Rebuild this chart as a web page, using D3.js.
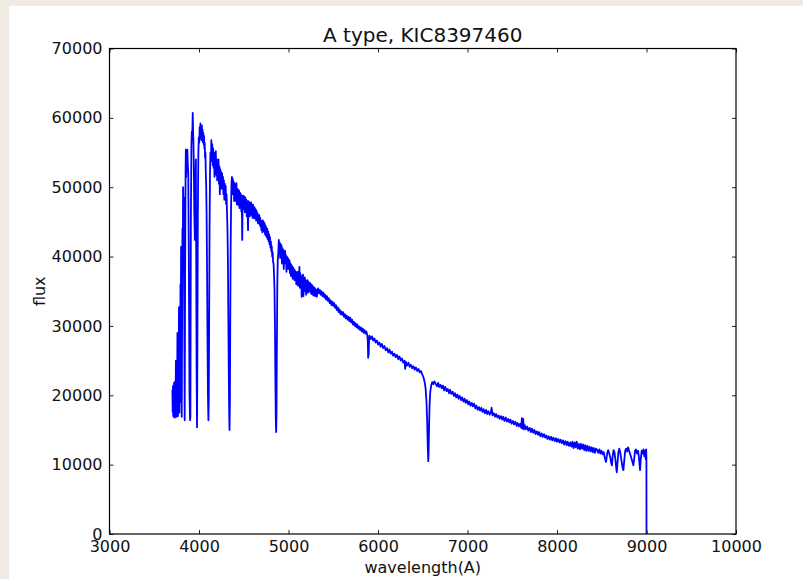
<!DOCTYPE html>
<html>
<head>
<meta charset="utf-8">
<script src="https://cdn.jsdelivr.net/npm/d3@7"></script>
<style>
  body { margin: 0; background: #efebe3; }
  svg { display: block; }
  text { font-family: "DejaVu Sans", sans-serif; fill: #111; }
</style>
</head>
<body>
<div id="chart"></div>
<script>
// Spectrum of an A type star, KIC8397460

var chartTitle = "A type, KIC8397460";
var xLabel = "wavelength(A)";
var yLabel = "flux";
var xTicks = [3000, 4000, 5000, 6000, 7000, 8000, 9000, 10000];
var yTicks = [0, 10000, 20000, 30000, 40000, 50000, 60000, 70000];

// [wavelength (A), flux]
var spectrum = [
  // blue end, higher Balmer lines
  [3703,20800],[3706,17600],[3709,21300],[3712,17000],[3715,19900],[3718,16900],[3721,21800],[3724,17300],
  [3727,19500],[3730,16800],[3733,22000],[3736,17400],[3739,20200],[3742,25000],[3745,17200],[3748,16900],
  [3751,22000],[3755,18000],[3759,29000],[3762,19000],[3765,17000],[3769,24000],[3772,18200],[3776,32700],
  [3779,21000],[3781,17500],[3785,28000],[3789,19000],[3793,36000],[3797,30000],[3800,41400],[3803,33000],
  [3807,16900],[3811,30000],[3815,44000],[3819,39000],[3822,50000],[3826,47000],[3830,48500],[3834,36000],
  [3840,16400],[3845,38000],[3850,52000],[3853,55400],[3857,51500],[3861,54800],[3865,52800],[3870,55400],
  [3874,53500],[3880,52000],[3886,40000],[3894,20000],[3900,16400],[3904,17000],[3909,45000],[3915,56000],
  [3920,58000],[3925,57500],[3930,60700],[3934,58000],[3938,56500],[3943,52000],[3948,46000],[3954,42400],
  [3959,50000],[3965,54000],[3969,40000],[3973,24000],[3978,15400],[3982,26000],[3987,46000],[3993,55000],
  [3998,57200],[4003,56400],[4008,58700],
  // H delta, H gamma
  [4012,57000],[4016,59200],[4020,57400],[4024,58600],[4028,56800],[4032,58900],[4036,57200],[4040,58300],
  [4044,56500],[4048,57800],[4052,56200],[4056,57400],[4060,55600],[4064,56400],[4068,54200],[4072,55000],
  [4076,52000],[4080,50500],[4085,46000],[4090,38000],[4095,28000],[4100,20000],[4105,16400],[4109,19000],
  [4113,30000],[4118,44000],[4123,52000],[4128,55000],[4133,53800],[4138,56800],[4143,54000],[4148,56200],
  [4153,53200],[4158,55600],[4163,52800],[4168,55000],[4173,51500],[4178,54800],[4183,52600],[4188,55200],
  [4193,51800],[4198,54000],[4203,51000],[4208,53800],[4213,51200],[4218,54000],[4223,50500],[4228,53000],
  [4233,49000],[4238,52600],[4243,50800],[4248,52200],[4253,49800],[4258,52000],[4263,50200],[4268,51500],
  [4273,49000],[4278,51000],[4283,48200],[4288,50500],[4293,48800],[4298,50200],[4303,47600],[4308,49000],
  [4313,46500],[4318,44000],[4323,39500],[4328,31000],[4333,23000],[4337,17500],[4341,15000],[4345,19000],
  [4349,30000],[4353,40000],
  // up to H beta
  [4358,47000],[4363,50500],[4368,51500],[4373,49000],[4378,51200],[4383,49200],[4388,50800],[4393,48000],
  [4398,50500],[4403,48500],[4408,50200],[4413,48000],[4418,50600],[4423,47500],[4428,49800],[4433,48200],
  [4438,49600],[4443,47400],[4448,49500],[4453,47000],[4458,49200],[4463,47800],[4468,49000],[4473,46500],
  [4478,48800],[4483,42400],[4488,48500],[4493,46800],[4498,48800],[4503,47200],[4508,48600],[4513,46400],
  [4518,48500],[4523,47000],[4528,48200],[4533,45800],[4538,48000],[4543,46500],[4548,43800],[4553,48000],
  [4558,46200],[4563,47800],[4568,45800],[4573,47600],[4578,46500],[4583,47800],[4588,46000],[4593,47400],
  [4598,45600],[4603,47500],[4608,46200],[4613,47200],[4618,45500],[4623,47000],[4628,45800],[4633,46800],
  [4638,45200],[4643,46600],[4648,45500],[4653,46300],[4658,44800],[4663,46000],[4668,45200],[4673,46000],
  [4678,44600],[4683,45600],[4688,44300],[4693,45200],[4698,43800],[4703,45000],[4708,43500],[4713,45200],
  [4718,44000],[4723,45000],[4728,43600],[4733,44800],[4738,43200],[4743,44500],[4748,43000],[4753,44200],
  [4758,42800],[4763,44000],[4768,42500],[4773,43600],[4778,42200],[4783,43200],[4788,41800],[4793,42800],
  [4798,41300],[4803,42200],[4808,40800],[4813,41500],[4818,40000],[4823,40600],[4828,39200],[4833,39000],
  [4838,37500],[4843,35500],[4848,31000],[4853,23000],[4858,16500],[4862,14700],[4866,17500],[4870,27000],
  [4875,36000],[4880,39500],[4886,40500],
  // after H beta
  [4892,42400],[4897,40800],[4902,42000],[4907,39800],[4912,41800],[4917,40500],[4922,41600],[4927,39000],
  [4932,41200],[4937,40000],[4942,41000],[4947,38200],[4952,40600],[4957,39400],[4962,40800],[4967,39000],
  [4972,40200],[4977,37800],[4982,40000],[4987,38800],[4992,39800],[4997,38200],[5002,39600],[5007,38400],
  [5012,39400],[5017,37600],[5022,39000],[5027,37200],[5032,38800],[5037,37800],[5042,38600],[5047,36800],
  [5052,38400],[5057,37400],[5062,38200],[5067,36600],[5072,38000],[5077,37000],[5082,37800],[5087,36000],
  [5092,37600],[5097,36800],[5102,37800],[5107,35800],[5112,37400],[5117,36200],[5122,38500],[5127,35500],
  [5132,37600],[5137,36000],[5142,37200],[5147,34200],[5152,37000],[5157,35600],[5162,37400],[5167,34300],
  [5172,36800],[5177,35400],[5182,37000],[5187,35000],[5192,36600],[5197,34500],[5202,36200],[5207,35200],
  [5212,36600],[5217,34800],[5222,36400],[5227,35000],[5232,36000],[5237,35200],[5242,36200],[5247,34800],
  [5252,36000],[5257,34600],[5262,35900],[5267,35000],[5272,35700],[5277,34400],[5282,35600],[5287,34800],
  [5292,35500],[5297,34300],[5302,35300],[5307,34600],[5312,35200],[5317,34200],[5322,35000],
  // smooth part, Na D
  [5330,35400],[5340,34700],[5350,35200],[5360,34500],[5370,35000],[5380,34300],[5390,34800],[5400,34100],
  [5410,34500],[5420,33800],[5430,34300],[5440,33600],[5450,34000],[5460,33300],[5470,33700],[5480,33000],
  [5490,33500],[5500,32900],[5510,33300],[5520,32600],[5530,33000],[5540,32300],[5550,32700],[5560,32000],
  [5570,32400],[5580,31700],[5590,32100],[5600,31600],[5610,32000],[5620,31300],[5630,31700],[5640,31100],
  [5650,31500],[5660,30900],[5670,31300],[5680,30700],[5690,31200],[5700,30500],[5710,30900],[5720,30200],
  [5730,30600],[5740,30000],[5750,30400],[5760,29800],[5770,30200],[5780,29600],[5790,29900],[5800,29400],
  [5810,29800],[5820,29200],[5830,29600],[5840,29000],[5850,29400],[5860,28900],[5870,29200],[5880,28700],
  [5886,27800],[5890,25400],[5893,27200],[5896,25800],[5900,27900],
  // up to H alpha
  [5904,28600],[5918,28100],[5932,28500],[5946,27900],[5960,28200],[5974,27600],[5988,27900],[6002,27300],
  [6016,27600],[6030,27000],[6044,27400],[6058,26800],[6072,27100],[6086,26500],[6100,26800],[6114,26200],
  [6128,26600],[6142,26000],[6156,26300],[6170,25700],[6184,26000],[6198,25500],[6212,25800],[6226,25200],
  [6240,25600],[6254,25000],[6268,25300],[6282,24700],[6296,25000],[6304,23800],[6312,24800],[6326,24300],
  [6340,24700],[6354,24100],[6368,24400],[6382,23900],[6396,24200],[6410,23700],[6424,24000],[6438,23500],
  [6452,23800],[6466,23300],[6480,23500],[6494,23000],[6508,22600],[6520,22000],[6532,21000],[6542,19000],
  [6550,16000],[6556,12500],[6562,10500],[6566,12000],[6570,15000],[6576,18500],[6584,20500],[6594,21400],
  [6606,21900],[6618,21600],[6630,22000],[6642,21700],
  // red continuum
  [6660,21300],[6672,21800],[6684,21200],[6700,21500],[6712,21000],[6726,21400],[6740,20700],[6752,21200],
  [6768,20600],[6780,20900],[6794,20300],[6806,20800],[6820,20200],[6834,20500],[6848,19900],[6860,20300],
  [6874,19700],[6888,20100],[6900,19500],[6914,19900],[6928,19300],[6940,19700],[6954,19100],[6968,19500],
  [6980,18900],[6994,19300],[7008,18700],[7020,19100],[7034,18500],[7048,18900],[7060,18400],[7074,18800],
  [7088,18100],[7100,18500],[7114,17900],[7128,18300],[7140,17800],[7154,18200],[7168,17600],[7180,18000],
  [7194,17400],[7208,17900],[7220,17300],[7234,17700],[7248,17200],[7260,17500],[7270,18200],[7280,17100],
  [7294,17400],[7308,16900],[7320,17300],[7334,16800],[7348,17100],[7360,16600],[7374,17000],[7388,16500],
  [7400,16900],[7414,16300],[7428,16800],[7440,16200],[7454,16600],[7468,16100],[7480,16500],[7494,15900],
  [7508,16300],[7520,15800],[7534,16200],[7548,15600],[7560,16000],[7574,15500],[7588,15900],[7600,15300],
  [7608,16700],[7614,15200],[7622,16600],[7630,15100],[7640,15700],[7652,15100],[7666,15500],[7680,14900],
  [7694,15300],[7708,14700],[7720,15200],[7734,14600],[7748,15000],[7760,14400],[7774,14800],[7788,14300],
  [7800,14700],[7814,14100],[7828,14500],[7840,14000],[7854,14400],[7868,13900],[7880,14200],[7894,13700],
  [7908,14100],[7920,13600],[7934,14000],[7948,13500],[7960,13900],[7974,13400],[7988,13800],[8000,13300],
  [8014,13700],[8028,13200],[8040,13600],[8054,13100],[8068,13500],[8080,12900],[8094,13400],[8108,12800],
  [8120,13300],[8134,12700],[8148,13200],[8160,12600],[8172,13300],[8184,12400],[8196,13200],[8208,12500],
  [8220,13300],[8232,12300],[8244,13000],[8256,12200],[8268,13000],[8280,12300],[8292,12900],[8304,12100],
  [8316,12800],[8328,12000],[8340,12700],[8352,12000],[8364,12600],[8376,11900],[8388,12500],[8400,11800],
  [8412,12400],[8424,11700],[8436,12300],
  // Paschen lines and red end
  [8450,12100],[8462,11700],[8474,12200],[8486,11600],[8498,12000],[8510,11500],[8522,11800],[8534,11000],
  [8548,10400],[8560,11600],[8572,12100],[8584,11600],[8596,11000],[8606,10200],[8614,9900],[8622,11200],
  [8632,12100],[8642,11800],[8652,10800],[8662,9500],[8668,8900],[8676,10200],[8686,11800],[8696,12300],
  [8706,11800],[8720,10600],[8732,9600],[8742,9200],[8750,10400],[8762,12000],[8772,12300],[8784,11900],
  [8795,12500],[8806,12000],[8818,11500],[8830,11000],[8842,10400],[8853,9900],[8862,10800],[8872,12000],
  [8882,12200],[8894,11600],[8906,12000],[8916,11000],[8928,9200],[8936,10800],[8946,12000],[8956,11600],
  [8966,12200],[8976,11200],[8986,12000],[8992,10800],[8996,12200],[8999,11000],[9000,0]
];

var svgWidth = 803;
var svgHeight = 579;

var chartMargin = {
  top: 48.5,
  right: 67,
  bottom: 45,
  left: 109.5
};

var width = svgWidth - chartMargin.left - chartMargin.right;
var height = svgHeight - chartMargin.top - chartMargin.bottom;

var svg = d3.select("#chart")
  .append("svg")
  .attr("width", svgWidth)
  .attr("height", svgHeight);

// white page over the paper background
svg.append("rect")
  .attr("x", 9)
  .attr("y", 6)
  .attr("width", svgWidth - 9)
  .attr("height", svgHeight - 6)
  .attr("fill", "#ffffff");

var chartGroup = svg.append("g")
  .attr("transform", `translate(${chartMargin.left}, ${chartMargin.top})`);

var xScale = d3.scaleLinear().domain([3000, 10000]).range([0, width]);
var yScale = d3.scaleLinear().domain([0, 70000]).range([height, 0]);

// spectrum line
var line = d3.line()
  .x(d => xScale(d[0]))
  .y(d => yScale(d[1]));

chartGroup.append("path")
  .datum(spectrum)
  .attr("d", line)
  .attr("fill", "none")
  .attr("stroke", "#0000ff")
  .attr("stroke-width", 1.8)
  .attr("stroke-linejoin", "round");

// axes, ticks pointing in
function styleAxis(g) {
  g.select(".domain").remove();
  g.selectAll(".tick line").attr("stroke", "#222").attr("stroke-width", 1);
  g.selectAll(".tick text").attr("font-size", "16px").attr("fill", "#111")
    .style("font-family", "DejaVu Sans, sans-serif");
}

chartGroup.append("g")
  .attr("transform", `translate(0, ${height})`)
  .call(d3.axisBottom(xScale).tickValues(xTicks).tickFormat(d3.format("d"))
    .tickSizeInner(-4).tickSizeOuter(0).tickPadding(7))
  .call(styleAxis);

chartGroup.append("g")
  .call(d3.axisTop(xScale).tickValues(xTicks).tickFormat("")
    .tickSizeInner(-4).tickSizeOuter(0))
  .call(styleAxis);

chartGroup.append("g")
  .call(d3.axisLeft(yScale).tickValues(yTicks).tickFormat(d3.format("d"))
    .tickSizeInner(-4).tickSizeOuter(0).tickPadding(7))
  .call(styleAxis);

chartGroup.append("g")
  .attr("transform", `translate(${width}, 0)`)
  .call(d3.axisRight(yScale).tickValues(yTicks).tickFormat("")
    .tickSizeInner(-4).tickSizeOuter(0))
  .call(styleAxis);

// frame
chartGroup.append("rect")
  .attr("width", width)
  .attr("height", height)
  .attr("fill", "none")
  .attr("stroke", "#000")
  .attr("stroke-width", 1.2);

// title and labels
chartGroup.append("text")
  .attr("x", width / 2)
  .attr("y", -7)
  .attr("text-anchor", "middle")
  .attr("font-size", "20px")
  .text(chartTitle);

chartGroup.append("text")
  .attr("x", width / 2)
  .attr("y", height + 39)
  .attr("text-anchor", "middle")
  .attr("font-size", "16px")
  .text(xLabel);

chartGroup.append("text")
  .attr("transform", "rotate(-90)")
  .attr("x", -height / 2)
  .attr("y", 45 - chartMargin.left)
  .attr("text-anchor", "middle")
  .attr("font-size", "16px")
  .text(yLabel);
</script>
</body>
</html>
